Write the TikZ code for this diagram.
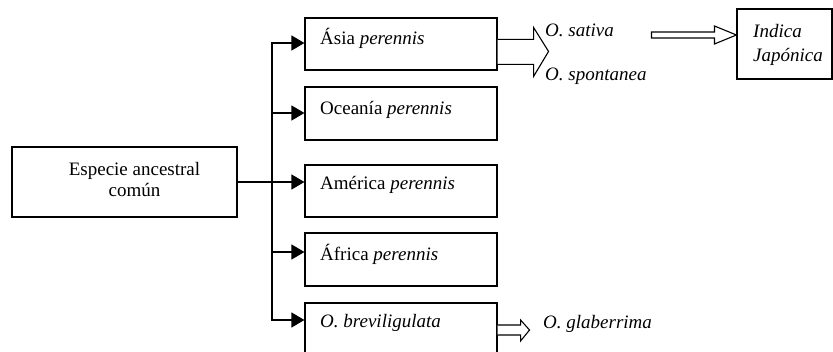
\documentclass[tikz,border=0pt]{standalone}
\usepackage{fontspec}
\setmainfont{Liberation Serif}
\usetikzlibrary{arrows.meta,calc}
\tikzset{
  box/.style={draw, line width=1.1pt, inner sep=0pt, minimum width=192pt, minimum height=52pt},
  txt/.style={inner sep=0pt, anchor=base west},
  tri/.style={-{Triangle[length=13pt,width=15pt]}, line width=1.1pt},
  hollow/.style={draw, line width=1.1pt, fill=white, line join=miter},
}
\begin{document}
\begin{tikzpicture}[x=1pt, y=-1pt, font=\fontsize{19}{21}\selectfont]
\clip (0,0) rectangle (833,352);
% boxes
\node[box, minimum width=225pt, minimum height=70pt] (esp) at (124.5,182) {};
\node[inner sep=0pt, anchor=north, align=center] (esptxt) at (134.5,162.5) {Especie ancestral\\común};

\node[box] (asia) at (401,44) {};
\node[box, minimum height=53pt] (oce) at (401,113.5) {};
\node[box] (amer) at (401,191) {};
\node[box, minimum height=53pt] (afr) at (401,259.5) {};
\node[box, minimum height=56pt] (brev) at (401,331) {};

\node[txt] (asiatxt) at (320,45) {Ásia \textit{perennis}};
\node[txt] (ocetxt) at (320,115) {Oceanía \textit{perennis}};
\node[txt] (amertxt) at (320,190) {América \textit{perennis}};
\node[txt] (afrtxt) at (320,261) {África \textit{perennis}};
\node[txt] (brevtxt) at (320,328) {\textit{O. breviligulata}};

% connectors
\coordinate (j) at (272,182);
\draw[tri] (esp.east) -- ([yshift=9pt]amer.west);
\draw[tri] (j) |- ([yshift=1pt]asia.west);
\draw[tri] (j) |- ([yshift=0.5pt]oce.west);
\draw[tri] (j) |- ([yshift=7.5pt]afr.west);
\draw[tri] (j) |- ([yshift=11pt]brev.west);

% right side
\node[txt] (sat) at (545,37) {\textit{O. sativa}};
\node[txt] (spon) at (545,81) {\textit{O. spontanea}};
\node[box, minimum width=95pt, minimum height=70pt] (ind) at (784.5,44) {};
\node[inner sep=0pt, anchor=north west, align=left, font=\fontsize{19}{24}\selectfont] (indtxt) at (753,24) {\textit{Indica}\\\textit{Japónica}};

\node[txt] (glab) at (543,329) {\textit{O. glaberrima}};

% hollow arrows
\coordinate (ane) at (asia.north east);
\draw[hollow] ($(ane)+(0,22)$) -- ($(ane)+(36,22)$) -- ($(ane)+(36,10)$) -- ($(ane)+(51,34)$)
  -- ($(ane)+(36,59)$) -- ($(ane)+(36,47)$) -- ($(ane)+(0,47)$);

\coordinate (iw) at ([yshift=9pt]ind.west);
\draw[hollow] ($(iw)+(-85,-3)$) -- ($(iw)+(-22,-3)$) -- ($(iw)+(-22,-9)$) -- (iw)
  -- ($(iw)+(-22,9)$) -- ($(iw)+(-22,3)$) -- ($(iw)+(-85,3)$) -- cycle;

\coordinate (be) at ([yshift=6pt]brev.east);
\draw[hollow] (be) -- ($(be)+(23,0)$) -- ($(be)+(23,-5)$) -- ($(be)+(32,5)$)
  -- ($(be)+(23,16)$) -- ($(be)+(23,10)$) -- ($(be)+(0,10)$);
\end{tikzpicture}
\end{document}
